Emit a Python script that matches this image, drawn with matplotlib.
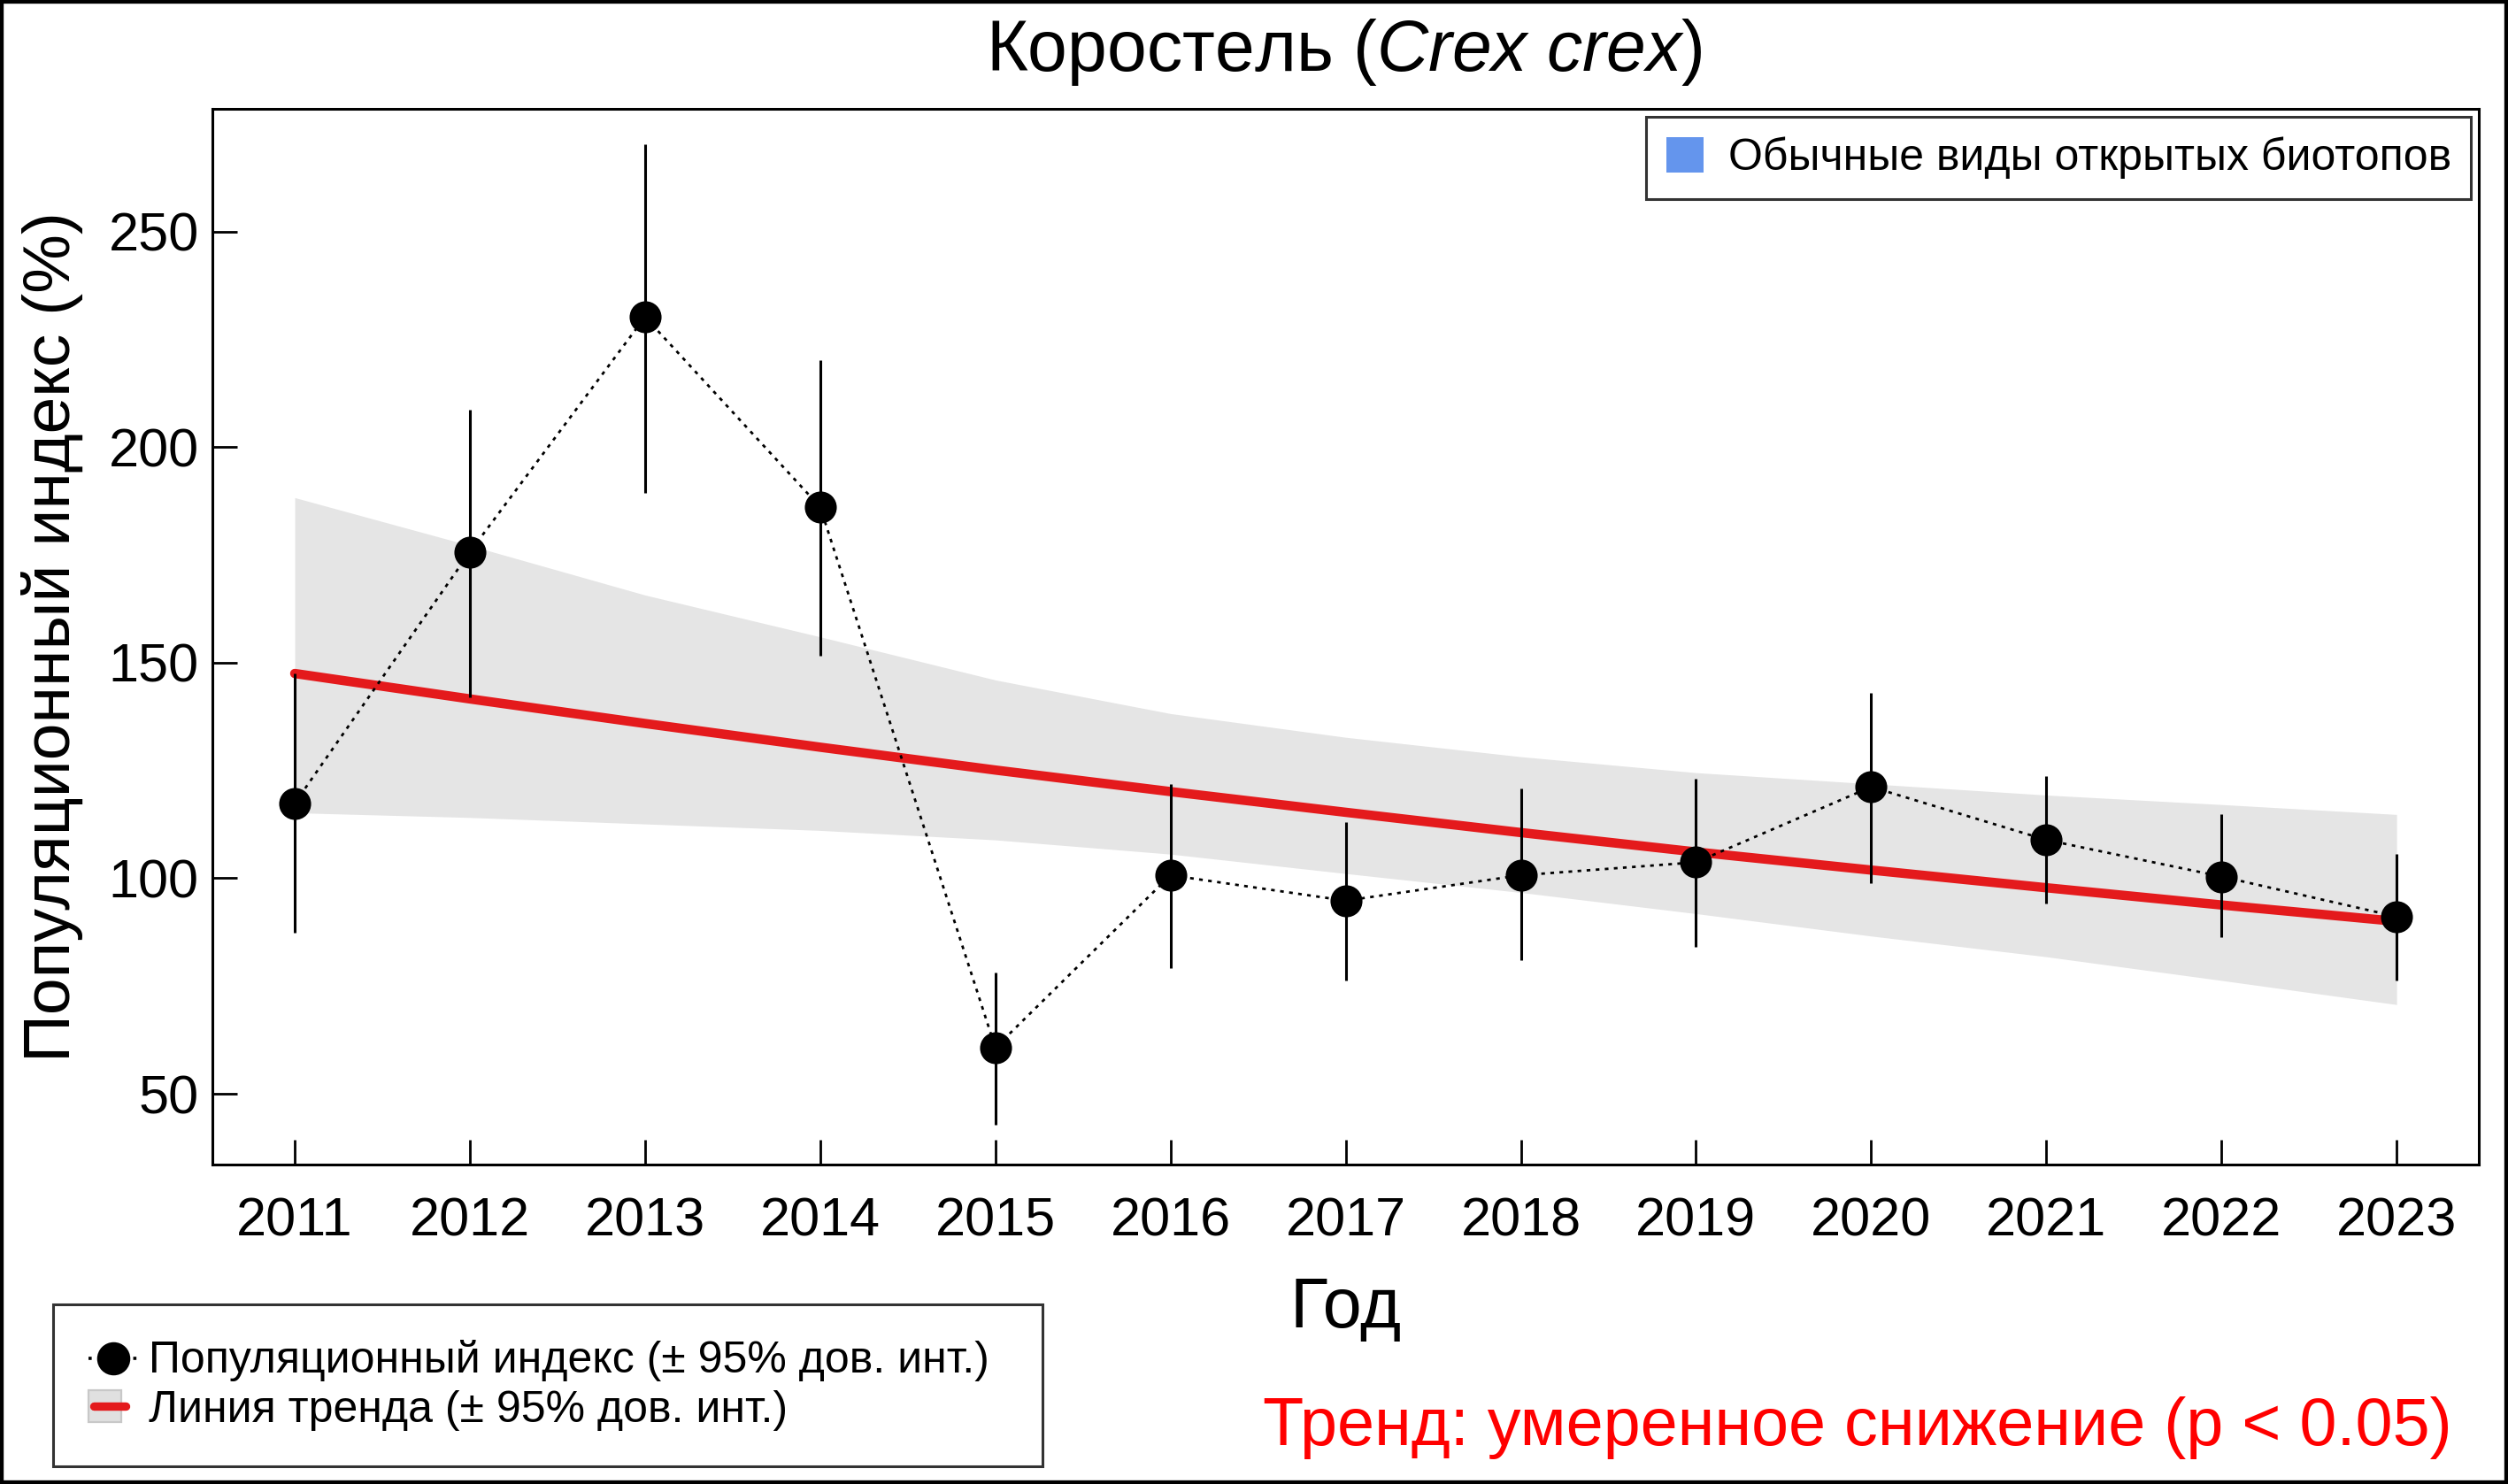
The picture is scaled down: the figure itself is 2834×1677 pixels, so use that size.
import matplotlib
matplotlib.use("Agg")
import matplotlib.pyplot as plt
from matplotlib.lines import Line2D
from matplotlib.patches import Patch, Rectangle
from matplotlib.legend_handler import HandlerBase

plt.rcParams["font.family"] = ["Liberation Sans", "DejaVu Sans"]
plt.rcParams["mathtext.fontset"] = "custom"
plt.rcParams["mathtext.it"] = "Liberation Sans:italic"
plt.rcParams["mathtext.rm"] = "Liberation Sans"

# data
years = [2011, 2012, 2013, 2014, 2015, 2016, 2017, 2018, 2019, 2020, 2021, 2022, 2023]
index_vals = [117.4, 175.7, 230.2, 186.1, 60.7, 100.7, 94.8, 100.7, 103.7, 121.2, 108.9, 100.4, 91.1]
ci_low = [87.4, 141.9, 189.4, 151.6, 42.9, 79.2, 76.3, 81.1, 84.0, 98.9, 94.1, 86.3, 76.3]
ci_high = [147.5, 208.7, 270.3, 220.2, 78.1, 121.9, 113.0, 120.8, 123.0, 143.0, 123.7, 114.8, 105.6]
trend = [147.5, 141.6, 135.9, 130.4, 125.1, 120.1, 115.3, 110.6, 106.1, 101.9, 97.8, 93.8, 90.0]
trend_low = [115.2, 114.1, 112.6, 111.1, 108.9, 105.6, 101.1, 96.7, 91.8, 86.6, 81.8, 76.3, 70.7]
trend_high = [188.3, 177.2, 165.7, 156.0, 146.0, 138.2, 132.7, 128.2, 124.5, 121.9, 119.3, 117.1, 114.8]
y_ticks = [50, 100, 150, 200, 250]

title = r"Коростель ($\mathit{Crex\ crex}$)"
group_label = "Обычные виды открытых биотопов"
trend_text = "Тренд: умеренное снижение (p < 0.05)"

red = "#e41a1c"


class TrendHandler(HandlerBase):
    # grey band square with the red trend line across it
    def create_artists(self, legend, orig_handle, xdescent, ydescent, width, height,
                       fontsize, trans):
        w = width * 0.67
        x0, y0 = -xdescent, -ydescent
        rect = Rectangle((x0, y0 - height * 0.1), w, height * 1.2, facecolor="#e0e0e0",
                         edgecolor="#c8c8c8", lw=0.8, transform=trans)
        line = Line2D([x0 + 2, x0 + w + 2], [y0 + height / 2] * 2, color=red, lw=3.4,
                      solid_capstyle="round", transform=trans)
        return [rect, line]


fig = plt.figure(figsize=(14.17, 8.385), dpi=200)
ax = fig.add_axes([0.0847, 0.2153, 0.9037, 0.7114])

ax.fill_between(years, trend_low, trend_high, color="#e5e5e5", lw=0, zorder=1)
ax.plot(years, trend, color=red, lw=3.8, zorder=2, solid_capstyle="round")
ax.vlines(years, ci_low, ci_high, color="black", lw=1.1, zorder=3)
ax.plot(years, index_vals, color="black", lw=1.0, ls=(0, (1.5, 2.2)), zorder=3)
ax.plot(years, index_vals, "o", color="black", ms=12, zorder=4, lw=0)

ax.set_xlim(2010.53, 2023.47)
ax.set_ylim(33.6, 278.5)
ax.set_xticks(years)
ax.set_yticks(y_ticks)
ax.tick_params(direction="in", length=10, width=1.0, labelsize=22, pad=5.5)
ax.tick_params(axis="x", pad=13)
for s in ax.spines.values():
    s.set_linewidth(1.1)

ax.set_xlabel("Год", fontsize=28.5)
ax.set_ylabel("Популяционный индекс (%)", fontsize=27)
ax.yaxis.set_label_coords(-0.057, 0.5)
ax.xaxis.set_label_coords(0.5, -0.106)
fig.text(0.5358, 0.965, title, ha="center", va="center", fontsize=29)

leg1 = ax.legend(handles=[Patch(facecolor="#6495ed", edgecolor="none", label=group_label)],
                 loc="upper right", bbox_to_anchor=(0.9965, 0.9925), borderaxespad=0,
                 fontsize=18, frameon=True, fancybox=False, edgecolor="black",
                 handlelength=0.85, handleheight=0.85, handletextpad=0.55, borderpad=0.45)
leg1.get_frame().set_linewidth(1.1)

h_index = Line2D([], [], color="black", lw=1.3, ls=(0, (1.0, 1.8)), marker="o", ms=12.5)
h_trend = Patch(facecolor="#e0e0e0")
leg2 = fig.legend(handles=[h_index, h_trend],
                  labels=["Популяционный индекс (± 95% дов. инт.)",
                          "Линия тренда (± 95% дов. инт.)"],
                  handler_map={h_trend: TrendHandler()}, numpoints=1,
                  loc="lower left", bbox_to_anchor=(0.0212, 0.0119, 0.3945, 0.1068),
                  mode="expand", borderaxespad=0, fontsize=18, frameon=True,
                  fancybox=False, edgecolor="black", handlelength=1.1, handleheight=0.55,
                  handletextpad=0.25, labelspacing=0.2, borderpad=0.8)
leg2.get_frame().set_linewidth(1.1)

fig.text(0.9777, 0.026, trend_text, ha="right", va="baseline", fontsize=27.2, color="#ff0000")

fig.patches.append(Rectangle((0, 0), 1, 1, transform=fig.transFigure, fill=False,
                             edgecolor="black", lw=3.0))

fig.savefig("out.png", dpi=200)
